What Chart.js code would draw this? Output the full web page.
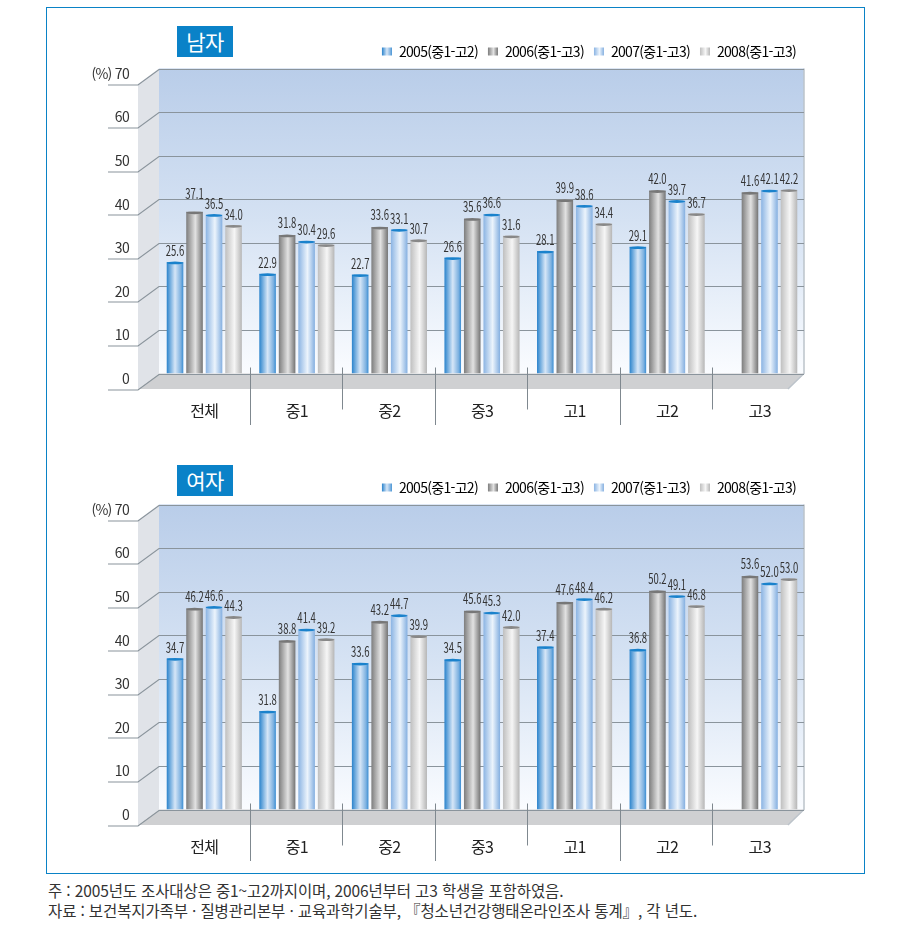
<!DOCTYPE html>
<html lang="ko">
<head>
<meta charset="utf-8">
<title>남자 여자 차트</title>
<script src="https://cdn.jsdelivr.net/npm/chart.js@4"></script>
<style>
  html, body { margin: 0; padding: 0; background: #fff; }
  #page { position: relative; width: 903px; height: 944px; overflow: hidden; }
  #frame { position: absolute; left: 46px; top: 7px; width: 817px; height: 865px; border: 1px solid #0a82c6; box-sizing: content-box; }
  canvas { position: absolute; left: 0; }
  #chartMale { top: 0; }
  #chartFemale { top: 436px; }
  .tag { position: absolute; left: 177px; width: 56px; height: 31px; background: #0a82c8; color: #fff;
    font: 21px "Noto Sans CJK KR", sans-serif; line-height: 30px; text-align: center; z-index: 2; letter-spacing: -0.5px; }
  #notes { position: absolute; left: 48px; top: 880px; font: 15.5px/20px "Noto Sans CJK KR", sans-serif; color: #333; white-space: nowrap; letter-spacing: -0.13px; }
</style>
</head>
<body>
<div id="page">
  <div id="frame"></div>
  <canvas id="chartMale" width="903" height="430"></canvas>
  <canvas id="chartFemale" width="903" height="430"></canvas>
  <div class="tag" style="top:26px">남자</div>
  <div class="tag" style="top:465px">여자</div>
  <div id="notes">주 : 2005년도 조사대상은 중1~고2까지이며, 2006년부터 고3 학생을 포함하였음.<br>자료 : 보건복지가족부 · 질병관리본부 · 교육과학기술부, 『청소년건강행태온라인조사 통계』, 각 년도.</div>
</div>
<script>
const categories = ['전체', '중1', '중2', '중3', '고1', '고2', '고3'];
const seriesNames = ['2005(중1-고2)', '2006(중1-고3)', '2007(중1-고3)', '2008(중1-고3)'];
const yTicks = [0, 10, 20, 30, 40, 50, 60, 70];

const male2005 = [25.6, 22.9, 22.7, 26.6, 28.1, 29.1, null];
const male2006 = [37.1, 31.8, 33.6, 35.6, 39.9, 42.0, 41.6];
const male2007 = [36.5, 30.4, 33.1, 36.6, 38.6, 39.7, 42.1];
const male2008 = [34.0, 29.6, 30.7, 31.6, 34.4, 36.7, 42.2];

// the 중1 bar for 2005 is drawn much shorter than its printed 31.8 in the source
const female2005 = [34.7, 22.6, 33.6, 34.5, 37.4, 36.8, null];
const female2005Printed = [34.7, 31.8, 33.6, 34.5, 37.4, 36.8, null];
const female2006 = [46.2, 38.8, 43.2, 45.6, 47.6, 50.2, 53.6];
const female2007 = [46.6, 41.4, 44.7, 45.3, 48.4, 49.1, 52.0];
const female2008 = [44.3, 39.2, 39.9, 42.0, 46.2, 46.8, 53.0];

const FONT = '"Noto Sans CJK KR", sans-serif';
const GROUP_SHARE = 0.843;
const BAR_SHARE = 0.85;
const SWATCH = 10;

// left edge, middle, right edge of each cylinder
const barStops = [
  [[0, '#2a83cc'], [0.5, '#d6e6f7'], [0.85, '#7db1e0'], [1, '#3a8dd2']],
  [[0, '#7d7d7d'], [0.55, '#e2e2e2'], [1, '#747474']],
  [[0, '#8bb4e3'], [0.55, '#ecf4fc'], [1, '#84afe0']],
  [[0, '#bfbfbf'], [0.55, '#f6f6f6'], [1, '#b6b6b6']]
];
const capColors = ['#1a82cc', '#777777', '#1a82cc', '#888888'];

function sideGradient(ctx, left, width, stops) {
  const g = ctx.createLinearGradient(left, 0, left + width, 0);
  stops.forEach(s => g.addColorStop(s[0], s[1]));
  return g;
}

function barFill(c) {
  const stops = barStops[c.datasetIndex];
  const xs = c.chart.scales.x;
  if (c.dataIndex === undefined || !xs) return stops[1][1];
  const center = xs.getPixelForTick(c.dataIndex);
  const pitch = xs.width / categories.length * GROUP_SHARE / 4;
  const w = pitch * BAR_SHARE;
  const left = center + (c.datasetIndex - 2) * pitch + (pitch - w) / 2;
  if (!Number.isFinite(left)) return stops[1][1];
  return sideGradient(c.chart.ctx, left, w, stops);
}

// walls, floor, grid lines and group dividers of the fake 3d box
const boxPlugin = {
  id: 'box',
  beforeLayout(chart) {
    // the source type is condensed, no narrow font here so tighten the tracking
    chart.ctx.letterSpacing = '-0.7px';
  },
  beforeDraw(chart) {
    const ctx = chart.ctx;
    const area = chart.chartArea;
    const ys = chart.scales.y;
    const xs = chart.scales.x;
    const wallL = area.left + 1, wallR = area.right - 2;
    const top = area.top, bottom = area.bottom;
    const dx = 21, dy = 15.5;

    // legend swatches get the same gradient as the bars
    chart.legend.legendItems.forEach((item, i) => {
      const box = chart.legend.legendHitBoxes[i];
      item.fillStyle = sideGradient(ctx, box.left, SWATCH, barStops[i]);
    });

    ctx.save();
    const wall = ctx.createLinearGradient(0, top, 0, bottom);
    wall.addColorStop(0, '#b9cde9');
    wall.addColorStop(0.5, '#d5e2f3');
    wall.addColorStop(1, '#fafcff');
    ctx.fillStyle = wall;
    ctx.fillRect(wallL, top, wallR - wallL, bottom - top);

    ctx.fillStyle = '#e0e3e8';
    ctx.beginPath();
    ctx.moveTo(wallL, top);
    ctx.lineTo(wallL - dx, top + dy);
    ctx.lineTo(wallL - dx, bottom + dy);
    ctx.lineTo(wallL, bottom);
    ctx.closePath();
    ctx.fill();

    ctx.fillStyle = '#cfd0d2';
    ctx.beginPath();
    ctx.moveTo(wallL, bottom);
    ctx.lineTo(wallR, bottom);
    ctx.lineTo(wallR - 16, bottom + dy);
    ctx.lineTo(wallL - dx, bottom + dy);
    ctx.closePath();
    ctx.fill();

    ctx.strokeStyle = '#bcc3ca';
    ctx.lineWidth = 1.5;
    ctx.beginPath();
    ctx.moveTo(wallR, top);
    ctx.lineTo(wallR, bottom);
    ctx.lineTo(wallR - 16, bottom + dy);
    ctx.stroke();

    yTicks.forEach(v => {
      const y = Math.round(ys.getPixelForValue(v)) + 0.5;
      ctx.strokeStyle = '#8a949c';
      ctx.lineWidth = 1.2;
      ctx.beginPath();
      ctx.moveTo(wallR, y);
      ctx.lineTo(wallL, y);
      ctx.lineTo(wallL - dx, y + dy);
      ctx.lineTo(wallL - dx - 30, y + dy);
      ctx.stroke();
    });

    ctx.strokeStyle = '#7f888f';
    ctx.lineWidth = 1;
    for (let i = 1; i < categories.length; i++) {
      const x = Math.round((xs.getPixelForTick(i - 1) + xs.getPixelForTick(i)) / 2) - 0.5;
      ctx.beginPath();
      ctx.moveTo(x, bottom - 6);
      ctx.lineTo(x, bottom + (i % 2 ? 51.5 : 36));
      ctx.stroke();
    }
    ctx.restore();
  },
  afterDatasetsDraw(chart) {
    const ctx = chart.ctx;
    ctx.save();
    chart.data.datasets.forEach((ds, i) => {
      const meta = chart.getDatasetMeta(i);
      meta.data.forEach((bar, j) => {
        if (ds.data[j] === null) return;
        const w = bar.width;
        // top rim of the cylinder
        ctx.fillStyle = capColors[i];
        ctx.beginPath();
        ctx.ellipse(bar.x, bar.y + 1, w / 2, 1.4, 0, 0, Math.PI * 2);
        ctx.fill();
        // printed value, squeezed sideways like the source labels
        const printed = ds.printed ? ds.printed[j] : ds.data[j];
        let lift = i === 1 ? 12 : 11;
        if (chart.canvas.id === 'chartMale' && i === 1 && j === 0) lift = 18;
        ctx.save();
        ctx.translate(bar.x, bar.y - lift);
        ctx.scale(0.68, 1);
        ctx.fillStyle = '#333';
        ctx.font = '14px ' + FONT;
        ctx.letterSpacing = '0px';
        ctx.textAlign = 'center';
        ctx.textBaseline = 'middle';
        ctx.fillText(printed.toFixed(1), 0, 0);
        ctx.restore();
      });
    });
    ctx.restore();
  }
};

function makeChart(id, a, b, c, d, printed) {
  return new Chart(document.getElementById(id), {
    type: 'bar',
    data: {
      labels: categories,
      datasets: [
        { label: seriesNames[0], data: a, printed: printed, backgroundColor: barFill },
        { label: seriesNames[1], data: b, backgroundColor: barFill },
        { label: seriesNames[2], data: c, backgroundColor: barFill },
        { label: seriesNames[3], data: d, backgroundColor: barFill }
      ]
    },
    plugins: [boxPlugin],
    options: {
      responsive: false,
      animation: false,
      layout: { padding: { top: 34.5, right: 97, left: 0, bottom: 0 } },
      datasets: { bar: { categoryPercentage: GROUP_SHARE, barPercentage: BAR_SHARE, borderWidth: 0 } },
      plugins: {
        tooltip: { enabled: false },
        legend: {
          position: 'top',
          align: 'end',
          onClick: null,
          labels: {
            boxWidth: SWATCH,
            boxHeight: 8,
            padding: 10,
            color: '#333',
            font: { family: FONT, size: 14 },
            generateLabels: chart => chart.data.datasets.map((ds, i) => ({
              text: ds.label, fillStyle: barStops[i][1][1], strokeStyle: 'transparent', lineWidth: 0, datasetIndex: i
            }))
          }
        }
      },
      scales: {
        x: {
          grid: { display: false },
          border: { display: false },
          ticks: { color: '#222', padding: 20, autoSkip: false, maxRotation: 0, font: { family: FONT, size: 16 } },
          afterFit: s => { s.height = 56.5; }
        },
        y: {
          min: 0,
          max: 70,
          grid: { display: false },
          border: { display: false },
          afterBuildTicks: s => { s.ticks = yTicks.map(v => ({ value: v })); },
          ticks: {
            color: '#333',
            padding: 21,
            labelOffset: 5,
            font: { family: FONT, size: 14 },
            callback: v => (v === 70 ? '(%) ' + v : '' + v)
          },
          afterFit: s => { s.width = 158; }
        }
      }
    }
  });
}

makeChart('chartMale', male2005, male2006, male2007, male2008);
makeChart('chartFemale', female2005, female2006, female2007, female2008, female2005Printed);
</script>
</body>
</html>
